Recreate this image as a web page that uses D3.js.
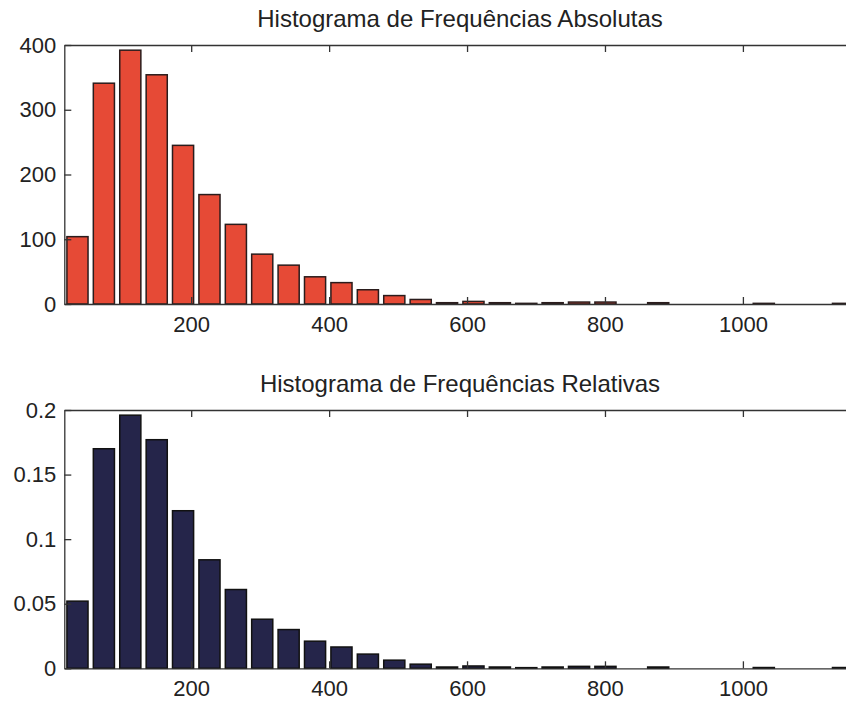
<!DOCTYPE html>
<html>
<head>
<meta charset="utf-8">
<script src="https://cdn.jsdelivr.net/npm/d3@7"></script>
<style>
  body { margin: 0; background: #fff; }
  svg { display: block; font-family: "Liberation Sans", Arial, Helvetica, sans-serif; }
  .axis path, .axis line { stroke: #333; stroke-width: 1.3; }
  .axis text { fill: #222; font-size: 22px; }
  .title { fill: #222; font-size: 24px; text-anchor: middle; }
</style>
</head>
<body>
<script>
const width = 846
const height = 703

/* Bin centres of the histogram (same for both panels). */
const binCenters = [35.1, 73.4, 111.7, 150.0, 188.2, 226.5, 264.8, 303.0, 341.3, 379.6,
  417.9, 456.2, 494.5, 532.8, 571.0, 609.3, 647.6, 685.9, 724.1, 762.4,
  800.7, 839.0, 877.2, 915.5, 953.8, 992.1, 1030.3, 1068.6, 1106.9, 1145.2]
const binWidth = 38.27

/* Absolute frequencies. */
const absolutas = [104, 341, 392, 354, 245, 169, 123, 77, 60, 42,
  33, 22, 13, 7, 2, 4, 2, 1, 2, 3,
  3, 0, 2, 0, 0, 0, 1, 0, 0, 1]

/* Relative frequencies. */
const relativas = [0.052, 0.170, 0.196, 0.177, 0.122, 0.084, 0.061, 0.038, 0.030, 0.021,
  0.0165, 0.011, 0.0063, 0.0032, 0.001, 0.0018, 0.001, 0.0005, 0.001, 0.0015,
  0.0015, 0, 0.001, 0, 0, 0, 0.0006, 0, 0, 0.0006]

const xTicks = [200, 400, 600, 800, 1000]
const xLabels = ["200", "400", "600", "800", "1000"]
const yTicksAbs = [0, 100, 200, 300, 400]
const yLabelsAbs = ["0", "100", "200", "300", "400"]
const yTicksRel = [0, 0.05, 0.1, 0.15, 0.2]
const yLabelsRel = ["0", "0.05", "0.1", "0.15", "0.2"]

const titles = ["Histograma de Frequências Absolutas", "Histograma de Frequências Relativas"]

/* Create svg-element. */
const svg = d3.select("body")
  .append("svg")
  .attr("width", width)
  .attr("height", height)

/* Shared x scale; right edge of the axes lies just past the picture. */
const x = d3.scaleLinear()
  .domain([16, 1164])
  .range([64.3, 856])

function panel(values, yDomain, yRange, yTicks, yLabels, fill, stroke, title) {
  const y = d3.scaleLinear().domain(yDomain).range(yRange)
  const g = svg.append("g")

  /* top border with inward ticks */
  g.append("g")
    .attr("class", "axis")
    .attr("transform", `translate(0,${yRange[1]})`)
    .call(d3.axisTop(x).tickValues(xTicks).tickSize(-7).tickSizeOuter(0).tickFormat(""))

  /* bars */
  g.selectAll("rect")
    .data(values)
    .enter()
    .append("rect")
    .attr("x", (d, i) => x(binCenters[i] - binWidth * 0.4))
    .attr("width", (d, i) => x(binCenters[i] + binWidth * 0.4) - x(binCenters[i] - binWidth * 0.4))
    .attr("y", d => y(d))
    .attr("height", d => y(0) - y(d))
    .attr("fill", fill)
    .attr("stroke", stroke)
    .attr("stroke-width", 1.5)

  /* bottom axis */
  g.append("g")
    .attr("class", "axis")
    .attr("transform", `translate(0,${yRange[0]})`)
    .call(d3.axisBottom(x).tickValues(xTicks).tickSize(-7).tickSizeOuter(0).tickPadding(12)
      .tickFormat((d, i) => xLabels[i]))

  /* left axis */
  g.append("g")
    .attr("class", "axis")
    .attr("transform", `translate(${x.range()[0]},0)`)
    .call(d3.axisLeft(y).tickValues(yTicks).tickSize(-7).tickSizeOuter(0).tickPadding(8)
      .tickFormat((d, i) => yLabels[i]))

  g.append("text")
    .attr("class", "title")
    .attr("x", 460)
    .attr("y", yRange[1] - 18)
    .text(title)
}

panel(absolutas, [0, 400], [304, 45], yTicksAbs, yLabelsAbs, "#e64a36", "#2a1c1c", titles[0])
panel(relativas, [0, 0.2], [668.3, 410], yTicksRel, yLabelsRel, "#25254a", "#111", titles[1])
</script>
</body>
</html>
